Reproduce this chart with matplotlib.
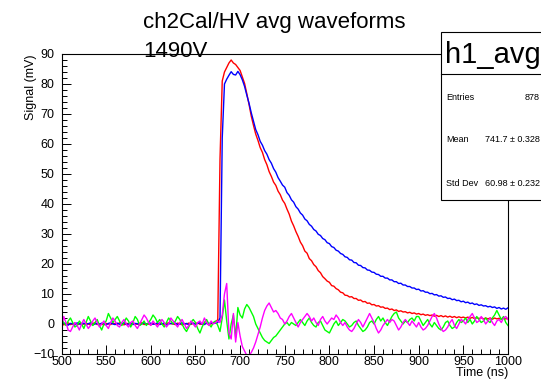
import numpy as np
import matplotlib
matplotlib.use('Agg')
import matplotlib.pyplot as plt
from matplotlib.patches import Rectangle
from matplotlib.lines import Line2D
from matplotlib.ticker import MultipleLocator

plt.rcParams['font.family'] = ['Liberation Sans', 'DejaVu Sans']

# sample times (ns)
time_ns = np.arange(500, 1000.01, 2.5)

red = [
    0.2, -0.3, 0.1, 0.4, -0.2, 0.0, 0.3, -0.4, 0.1, 0.2,
    -0.1, 0.3, 0.0, -0.3, 0.2, 0.4, -0.2, 0.1, 0.0, -0.3,
    0.2, 0.0, -0.2, 0.3, 0.1, -0.1, 0.4, 0.0, -0.3, 0.2,
    0.1, -0.2, 0.3, 0.0, -0.1, 0.2, 0.4, -0.2, 0.1, 0.0,
    -0.3, 0.2, 0.1, -0.1, 0.3, 0.0, -0.2, 0.2, 0.4, 0.1,
    0.0, -0.2, 0.3, 0.1, -0.3, 0.2, 0.0, 0.3, -0.1, 0.2,
    0.1, 0.4, -0.1, 0.0, 0.3, 0.2, -0.2, 0.1, 0.3, 0.5,
    1.5, 55.0, 81.0, 84.0, 85.5, 87.0, 88.0, 87.0, 86.5, 85.5,
    84.5, 82.3, 80.2, 76.8, 73.2, 69.3, 66.2, 63.3, 61.2, 58.8,
    57.2, 54.8, 53.1, 50.8, 49.2, 47.3, 46.2, 44.3, 43.1, 41.3,
    40.2, 38.3, 36.6, 34.3, 32.7, 30.8, 29.2, 27.3, 26.1, 24.3,
    23.6, 21.8, 21.1, 19.8, 19.1, 17.8, 17.1, 15.8, 15.1, 14.3,
    13.9, 12.8, 12.6, 11.8, 11.4, 10.6, 10.4, 9.6, 9.5, 9.0,
    9.1, 8.5, 8.5, 7.9, 8.0, 7.4, 7.5, 6.9, 7.0, 6.4,
    6.5, 6.0, 6.1, 5.6, 5.7, 5.2, 5.3, 4.8, 5.0, 4.5,
    4.7, 4.2, 4.4, 4.0, 4.1, 3.7, 3.9, 3.5, 3.7, 3.3,
    3.5, 3.1, 3.3, 2.9, 3.1, 2.8, 3.0, 2.6, 2.9, 2.5,
    2.8, 2.4, 2.7, 2.3, 2.6, 2.2, 2.5, 2.1, 2.4, 2.1,
    2.3, 2.0, 2.3, 1.9, 2.2, 1.8, 2.1, 1.8, 2.1, 1.7,
    2.0, 1.7, 2.0, 1.6, 2.0, 1.7, 1.9, 1.6, 1.9, 1.7,
    1.9,
]

blue = [
    -0.2, 0.3, 0.0, -0.4, 0.2, 0.1, -0.3, 0.4, 0.0, -0.1,
    0.3, -0.2, 0.1, 0.4, -0.3, 0.0, 0.2, -0.1, 0.3, 0.1,
    -0.3, 0.2, 0.4, 0.0, -0.2, 0.3, -0.1, 0.1, 0.4, -0.2,
    0.0, 0.3, -0.2, 0.2, 0.1, -0.3, 0.0, 0.4, -0.1, 0.2,
    0.3, -0.1, 0.0, 0.4, -0.2, 0.1, 0.3, -0.3, 0.0, 0.2,
    0.1, 0.3, -0.2, 0.0, 0.4, -0.1, 0.2, -0.3, 0.1, 0.3,
    -0.1, 0.2, 0.4, 0.0, -0.2, 0.3, 0.1, 0.4, 0.2, 0.3,
    0.5, 2.0, 62.0, 80.0, 81.6, 82.9, 84.1, 83.2, 83.0, 84.2,
    83.1, 81.4, 79.2, 76.3, 73.6, 70.4, 67.6, 64.8, 63.1, 60.9,
    59.6, 57.8, 56.6, 54.8, 53.6, 51.8, 50.6, 48.8, 47.6, 46.3,
    45.6, 43.8, 42.9, 41.4, 40.6, 39.1, 38.3, 37.0, 36.3, 35.0,
    34.4, 33.2, 32.6, 31.5, 31.0, 29.9, 29.5, 28.5, 28.1, 27.1,
    26.8, 25.8, 25.5, 24.6, 24.3, 23.5, 23.2, 22.4, 22.2, 21.4,
    21.3, 20.5, 20.4, 19.6, 19.5, 18.8, 18.7, 18.0, 17.9, 17.3,
    17.2, 16.6, 16.5, 15.9, 15.9, 15.3, 15.3, 14.7, 14.7, 14.1,
    14.1, 13.5, 13.6, 13.0, 13.0, 12.5, 12.5, 12.0, 12.0, 11.5,
    11.6, 11.0, 11.1, 10.6, 10.6, 10.1, 10.2, 9.7, 9.8, 9.3,
    9.4, 8.9, 9.0, 8.5, 8.6, 8.1, 8.3, 7.8, 7.9, 7.4,
    7.6, 7.1, 7.3, 6.8, 7.0, 6.5, 6.7, 6.2, 6.4, 6.0,
    6.1, 5.7, 5.9, 5.5, 5.7, 5.2, 5.5, 5.0, 5.3, 4.9,
    5.4,
]

green = [
    1.5, 0.5, -0.5, 1.0, 2.0, 0.5, -1.0, -0.5, 1.0, 0.0,
    -1.5, 0.5, 2.5, 1.0, -0.5, 0.5, 1.5, -0.5, -2.0, 0.0,
    1.0, 3.5, 2.0, 0.5, 1.5, 2.5, 1.0, -0.5, 0.5, 2.0,
    1.0, -1.0, 0.5, 2.5, 1.5, -0.5, 0.0, 1.0, -0.5, 0.5,
    1.5, 3.0, 2.0, 0.5, 1.5, 0.0, -1.0, 0.5, 2.0, 1.0,
    0.0, 1.0, 2.5, 1.5, 0.0, -1.5, -2.5, -1.0, 0.5, 1.5,
    0.5, -1.5, -3.0, -1.0, 0.5, 1.5, 0.0, -1.0, 0.5, 1.0,
    -0.5, -2.5, 2.0, 8.0, 1.0, -5.0, 0.0, 3.0, -4.5, 5.5,
    3.0, 2.0, 5.0, 6.5, 5.5, 4.0, 2.5, 0.0, -1.5, -3.0,
    -4.5, -5.5, -6.0, -6.5, -5.5, -4.5, -4.0, -3.0, -2.0, -1.0,
    0.0, 0.5, -0.5, 0.5, 0.0, -0.5, 0.5, 1.5, 0.5, -0.5,
    1.0, 2.0, 0.5, -0.5, -1.0, 0.5, 1.0, -0.5, -2.0, -2.5,
    -3.0, -1.5, 0.0, 1.0, -0.5, 0.5, 1.5, 1.0, 0.0, -1.0,
    -0.5, 0.5, 1.0, -0.5, -1.5, -2.5, -2.0, -1.0, 0.5, 1.0,
    0.0, 1.5, 2.5, 1.0, 2.0, 0.5, -0.5, 1.0, 2.5, 3.5,
    4.0, 2.0, 1.0, 0.0, 1.0, 0.5, 1.5, 2.0, 1.0, 2.5,
    2.5, 1.0, -0.5, 0.5, 1.5, 0.0, -1.0, 0.5, -0.5, -1.5,
    -2.0, -1.0, 0.5, 1.0, -0.5, -1.5, -1.0, 0.5, 1.5, 0.5,
    1.0, 2.0, 0.5, 1.5, 0.0, 1.0, 2.5, 1.5, 0.5, 1.0,
    2.0, 1.0, 0.5, 2.0, 3.0, 4.5, 3.0, 1.5, 2.5, 0.5,
    -0.5,
]

magenta = [
    -1.0, 2.5, 0.5, -2.0, -2.5, -1.0, 0.5, -0.5, -2.0, 0.0,
    1.5, 0.0, -1.5, -0.5, 1.0, 2.0, 0.5, -1.0, 0.0, 1.0,
    -0.5, -1.5, 0.5, 2.0, 1.0, -0.5, -1.0, 0.5, 1.5, 0.0,
    -1.0, 0.5, 1.0, -0.5, -1.5, 0.0, 1.5, 3.0, 2.0, 0.5,
    -0.5, 1.0, 0.0, -1.0, 0.5, 1.5, 0.5, -1.0, 0.0, 2.0,
    1.0, 0.0, -1.0, 0.5, 1.5, 0.0, -1.5, -0.5, 1.0, 0.0,
    -1.0, 0.5, 1.0, 0.0, 2.0, 0.5, -0.5, 1.0, 0.0, 0.5,
    1.0, 0.5, 3.0, 10.0, 13.5, -3.0, -5.0, 3.5, -6.0, 0.5,
    -4.0, -7.5, -9.0, -10.5, -10.5, -9.5, -8.0, -6.0, -3.5, -1.0,
    2.0, 4.5, 6.0, 7.0, 5.5, 4.0, 4.5, 3.5, 2.0, 1.5,
    0.0, 1.0, 2.5, 3.5, 2.0, 0.5, -1.0, 0.5, 1.5, 2.5,
    3.5, 2.5, 1.0, 2.0, 0.5, -0.5, 1.5, 2.5, 1.0, 0.0,
    1.0, 2.0, 1.5, 3.0, 2.0, 0.5, -0.5, 0.5, -1.0, -2.0,
    -2.5, -1.5, 0.0, 1.5, 0.5, -1.0, 0.5, 2.0, 3.5, 2.0,
    0.5, -1.5, -3.0, -2.0, -0.5, 0.5, 1.5, 0.5, 1.5, 1.0,
    -0.5, -2.0, -1.0, 0.5, 1.5, 0.5, -0.5, 1.0, 0.0, -1.0,
    0.5, -1.0, -2.0, -1.5, -0.5, 1.0, 2.5, 3.5, 2.0, 0.0,
    -1.5, -2.5, -2.0, -1.0, 0.5, 1.5, -0.5, -1.5, 0.0, 1.5,
    1.0, 0.0, 1.5, 2.5, 3.5, 2.0, 0.5, 1.0, 2.5, 1.5,
    0.0, 1.0, 2.0, 0.5, -0.5, 1.0, 1.5, 0.5, 2.0, 2.5,
    1.5,
]

x_ticks = [500, 550, 600, 650, 700, 750, 800, 850, 900, 950, 1000]
y_ticks = [-10, 0, 10, 20, 30, 40, 50, 60, 70, 80, 90]

title_line1 = "ch2Cal/HV avg waveforms"
title_line2 = "1490V"
stats_name = "h1_avg"
stats_labels = ["Entries", "Mean", "Std Dev"]
stats_values = ["878", "741.7 \u00b1 0.328", "60.98 \u00b1 0.232"]

W, H = 541, 380
fig = plt.figure(figsize=(W / 100, H / 100), dpi=100)
L, R, T, B = 61.5, 508, 54, 354
ax = fig.add_axes([L / W, 1 - B / H, (R - L) / W, (B - T) / H])

series = [(red, '#ff0000'), (blue, '#0000ff'), (green, '#00ff00'), (magenta, '#ff00ff')]
for vals, col in series:
    ax.plot(time_ns, vals, color=col, lw=1.0)

ax.set_xlim(500, 1000)
ax.set_ylim(-10, 90)
ax.set_xticks(x_ticks)
ax.set_yticks(y_ticks)
ax.xaxis.set_minor_locator(MultipleLocator(10))
ax.yaxis.set_minor_locator(MultipleLocator(2))
ax.tick_params(which='both', direction='in', top=False, right=False,
               width=0.7, color='black', labelsize=9)
ax.tick_params(which='major', length=6.5)
ax.tick_params(which='minor', length=3.6)
ax.tick_params(axis='x', pad=1.5)
ax.tick_params(axis='y', pad=5)
for s in ax.spines.values():
    s.set_linewidth(0.8)

ax.set_yticklabels(['\u221210' if v < 0 else str(v) for v in y_ticks])

# axis titles (ROOT style, right-aligned at axis ends)
fig.text(31 / W, 1 - T / H, "Signal (mV)", rotation=90, ha='center', va='top', fontsize=9)
fig.text(R / W, 1 - 379 / H, "Time (ns)", ha='right', va='bottom', fontsize=9)

# titles
fig.text(143 / W, 1 - 28 / H, title_line1, ha='left', va='baseline', fontsize=16)
fig.text(143 / W, 1 - 57 / H, title_line2, ha='left', va='baseline', fontsize=16)

# stats box
bx0, by0, bx1, by1 = 441, 32, 640, 200
box = Rectangle((bx0 / W, 1 - by1 / H), (bx1 - bx0) / W, (by1 - by0) / H,
                transform=fig.transFigure, facecolor='white', edgecolor='black',
                lw=0.8, zorder=5)
fig.add_artist(box)
fig.add_artist(Line2D([bx0 / W, 1.0], [1 - 74 / H, 1 - 74 / H], transform=fig.transFigure,
                      color='black', lw=0.8, zorder=6))
fig.text(445 / W, 1 - 63 / H, stats_name, ha='left', va='baseline', fontsize=21, zorder=7)
rows_y = [97, 140, 183]
for lab, val, yy in zip(stats_labels, stats_values, rows_y):
    fig.text(446 / W, 1 - yy / H, lab, ha='left', va='center', fontsize=6.5, zorder=7)
    fig.text(540 / W, 1 - yy / H, val, ha='right', va='center', fontsize=6.5, zorder=7)

fig.savefig('out.png', dpi=100)
